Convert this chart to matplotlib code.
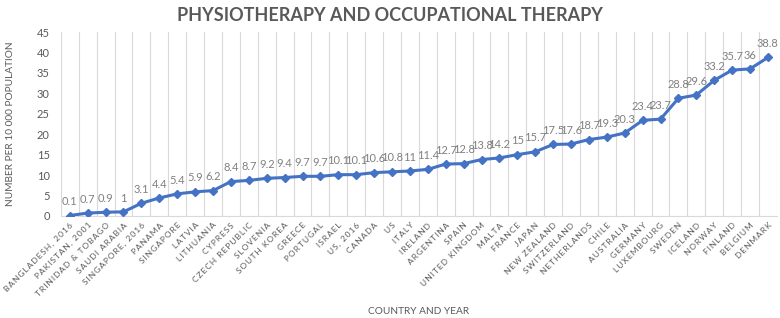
import matplotlib
matplotlib.use("Agg")
from matplotlib import pyplot as plt

countries = [
    "BANGLADESH, 2016", "PAKISTAN, 2001", "TRINIDAD & TOBAGO", "SAUDI ARABIA",
    "SINGAPORE, 2016", "PANAMA", "SINGAPORE", "LATVIA", "LITHUANIA", "CYPRESS",
    "CZECH REPUBLIC", "SLOVENIA", "SOUTH KOREA", "GREECE", "PORTUGAL", "ISRAEL",
    "US, 2016", "CANADA", "US", "ITALY", "IRELAND", "ARGENTINA", "SPAIN",
    "UNITED KINGDOM", "MALTA", "FRANCE", "JAPAN", "NEW ZEALAND", "SWITZERLAND",
    "NETHERLANDS", "CHILE", "AUSTRALIA", "GERMANY", "LUXEMBOURG", "SWEDEN",
    "ICELAND", "NORWAY", "FINLAND", "BELGIUM", "DENMARK",
]
values = [
    0.1, 0.7, 0.9, 1, 3.1, 4.4, 5.4, 5.9, 6.2, 8.4,
    8.7, 9.2, 9.4, 9.7, 9.7, 10.1, 10.1, 10.6, 10.8, 11,
    11.4, 12.7, 12.8, 13.8, 14.2, 15, 15.7, 17.5, 17.6, 18.7,
    19.3, 20.3, 23.4, 23.7, 28.8, 29.6, 33.2, 35.7, 36, 38.8,
]
y_ticks = [0, 5, 10, 15, 20, 25, 30, 35, 40, 45]

plt.rcParams['font.family'] = ['Lato', 'DejaVu Sans']
grey = '#595959'
blue = '#4472C4'


def spaced(s):
    # fake the wide letter spacing of the original with thin spaces
    return '\u2009'.join(s)


fig = plt.figure(figsize=(7.8, 3.18), dpi=100)
ax = fig.add_axes([0.078, 0.321, 0.918, 0.578])

x = list(range(len(values)))
ax.plot(x, values, color=blue, linewidth=2.2, marker='D', markersize=4.5, zorder=3)

for xi, v in zip(x, values):
    ax.annotate(f"{v:g}", (xi, v), xytext=(0, 6), textcoords='offset points',
                ha='center', va='bottom', fontsize=8, color='#808080')

ax.set_xlim(-0.5, len(values) - 0.5)
ax.set_ylim(0, 45)
ax.set_yticks(y_ticks)
ax.set_xticks(x)
ax.set_xticklabels([spaced(c) for c in countries], rotation=45, ha='right',
                   rotation_mode='anchor', fontsize=6, color=grey)
ax.tick_params(axis='y', labelsize=8, labelcolor=grey, length=0, pad=8)
ax.tick_params(axis='x', length=0, pad=4)

# vertical gridlines at category boundaries
for b in range(len(values) + 1):
    ax.axvline(b - 0.5, color='#d9d9d9', linewidth=0.8, zorder=0)

for s in ['top', 'right', 'left']:
    ax.spines[s].set_visible(False)
ax.spines['bottom'].set_color('#d9d9d9')

ax.set_ylabel('NUMBER PER 10 000 POPULATION', fontsize=7.3, color=grey, labelpad=16)
fig.text(0.537, 0.012, 'COUNTRY AND YEAR', ha='center', fontsize=7.3, color=grey)
fig.text(0.5, 0.978, 'PHYSIOTHERAPY AND OCCUPATIONAL THERAPY', ha='center', va='top',
         fontsize=13, fontweight='bold', color=grey)

fig.savefig('out.png', dpi=100)
